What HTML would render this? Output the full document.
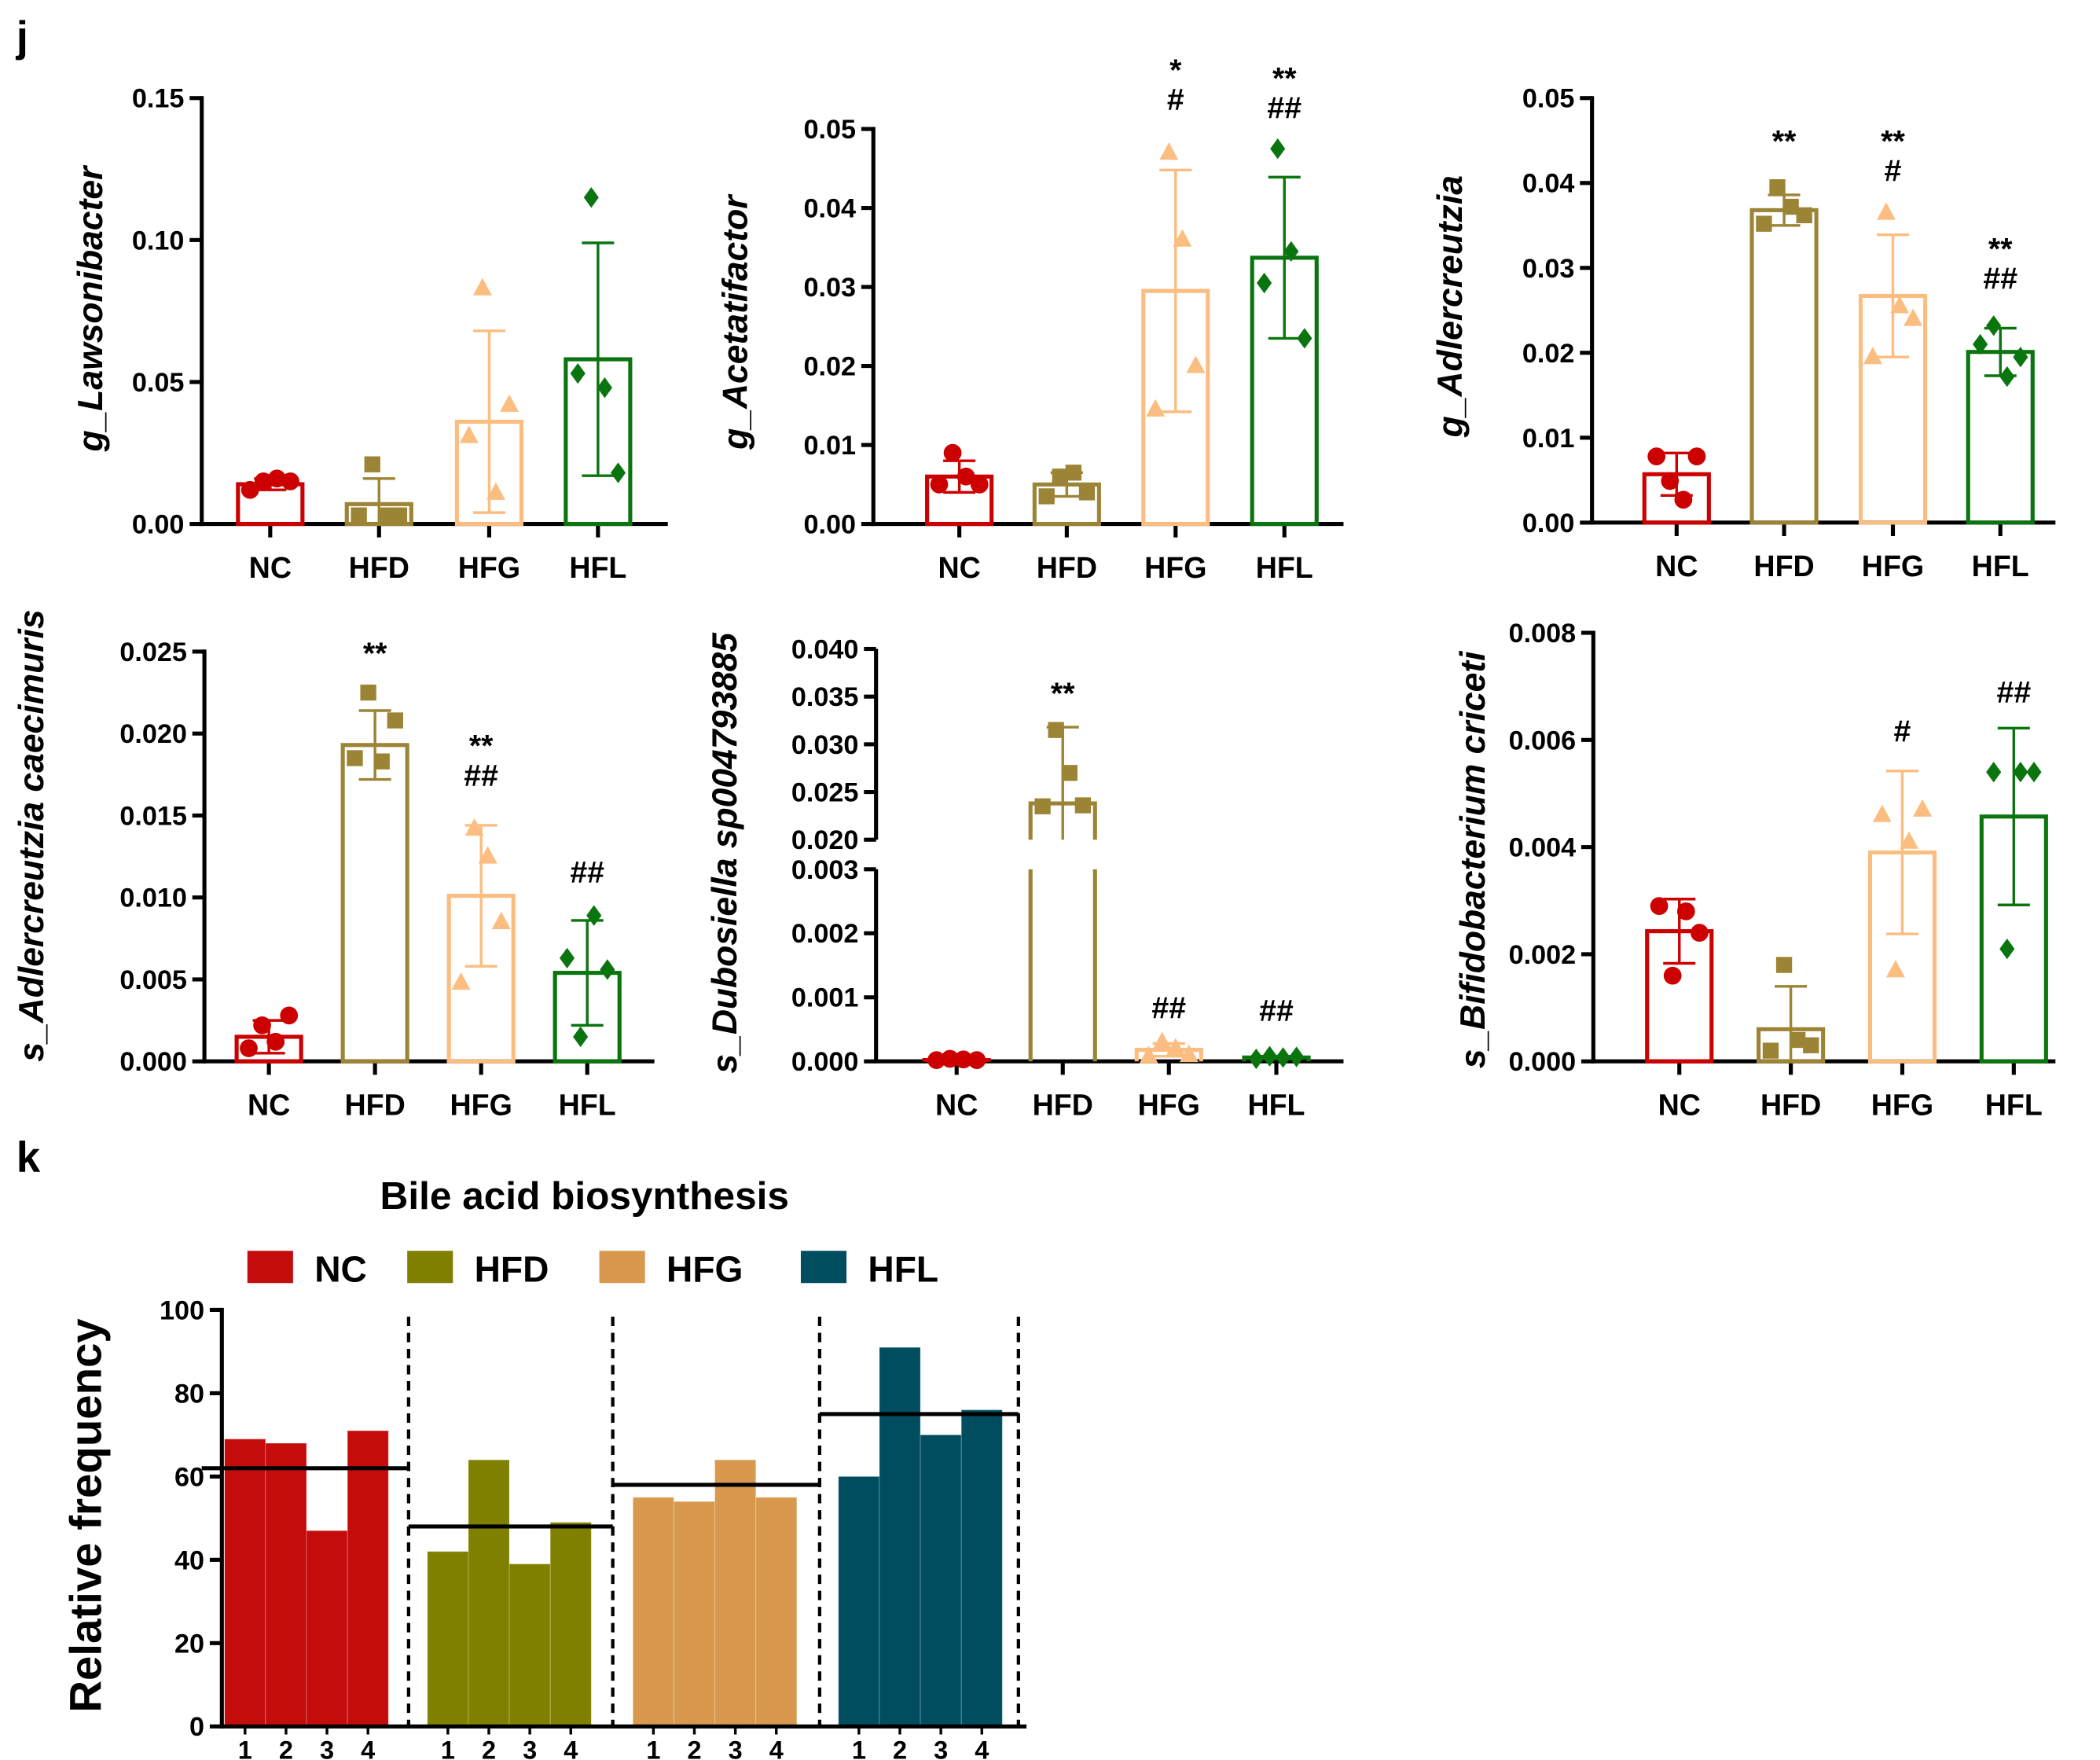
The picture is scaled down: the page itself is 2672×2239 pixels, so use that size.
<!DOCTYPE html>
<html><head><meta charset="utf-8">
<style>html,body{margin:0;padding:0;background:#fff}svg{display:block}text{font-family:"Liberation Sans",Arial,sans-serif;font-weight:bold}</style>
</head><body>
<svg id="fig" width="2672" height="2239" viewBox="0 0 1563 1310" xmlns="http://www.w3.org/2000/svg">
<text x="12" y="38" font-size="32">j</text>
<text x="12" y="872" font-size="32">k</text>
</svg>
<script>
const NS="http://www.w3.org/2000/svg";
const svg=document.getElementById('fig');
function mk(tag,attrs,parent,text){const e=document.createElementNS(NS,tag);for(const k in attrs)e.setAttribute(k,attrs[k]);if(text!==undefined)e.textContent=text;(parent||svg).appendChild(e);return e;}
const groups=["NC","HFD","HFG","HFL"];
const colors=["#cc0000","#9c8436","#fbbd80","#0a750f"];
const markers=["circle","square","triangle","diamond"];

// ---- panel data ----
const p1Means=[0.014,0.007,0.036,0.058];
const p1Sd=[0.002,0.009,0.032,0.041];
const p1Pts=[[0.012,0.015,0.016,0.015],[0.003,0.021,0.003,0.003],[0.031,0.083,0.011,0.042],[0.053,0.115,0.048,0.018]];
const p1Ticks=[0,0.05,0.10,0.15];
const p1Labels=["0.00","0.05","0.10","0.15"];

const p2Means=[0.006,0.005,0.0295,0.0337];
const p2Sd=[0.002,0.0015,0.0153,0.0102];
const p2Pts=[[0.005,0.009,0.006,0.005],[0.0035,0.006,0.0065,0.004],[0.0145,0.047,0.036,0.020],[0.0305,0.0475,0.0345,0.0235]];
const p2Ticks=[0,0.01,0.02,0.03,0.04,0.05];
const p2Labels=["0.00","0.01","0.02","0.03","0.04","0.05"];
const p2Ann=[[],[],["*","#"],["**","##"]];

const p3Means=[0.0057,0.0368,0.0267,0.0201];
const p3Sd=[0.0025,0.0018,0.0072,0.0028];
const p3Pts=[[0.0078,0.0049,0.0027,0.0078],[0.0352,0.0395,0.0372,0.0362],[0.0195,0.0365,0.0255,0.024],[0.021,0.0232,0.0172,0.0195]];
const p3Ticks=[0,0.01,0.02,0.03,0.04,0.05];
const p3Labels=["0.00","0.01","0.02","0.03","0.04","0.05"];
const p3Ann=[[],["**"],["**","#"],["**","##"]];

const p4Means=[0.0015,0.0193,0.0101,0.0054];
const p4Sd=[0.001,0.0021,0.0043,0.0032];
const p4Pts=[[0.0008,0.0022,0.0012,0.0028],[0.0185,0.0225,0.0183,0.0208],[0.0048,0.0142,0.0125,0.0085],[0.0063,0.0015,0.0089,0.0056]];
const p4Ticks=[0,0.005,0.010,0.015,0.020,0.025];
const p4Labels=["0.000","0.005","0.010","0.015","0.020","0.025"];
const p4Ann=[[],["**"],["**","##"],["##"]];

const p5Means=[0.00002,0.0238,0.00018,0.00006];
const p5Sd=[0,0.008,0.0001,0.00002];
const p5Pts=[[0.00002,0.00004,0.00003,0.00002],[0.0235,0.0315,0.027,0.0236],[0.00008,0.0003,0.0002,0.0001],[0.00004,0.00008,0.00006,0.00007]];
const p5LowTicks=[0,0.001,0.002,0.003];
const p5LowLabels=["0.000","0.001","0.002","0.003"];
const p5HighTicks=[0.020,0.025,0.030,0.035,0.040];
const p5HighLabels=["0.020","0.025","0.030","0.035","0.040"];
const p5Ann=[[],["**"],["##"],["##"]];

const p6Means=[0.00243,0.0006,0.0039,0.00457];
const p6Sd=[0.0006,0.0008,0.00152,0.00165];
const p6Pts=[[0.0029,0.0016,0.0028,0.0024],[0.0002,0.0018,0.0004,0.0003],[0.0046,0.0017,0.0041,0.0047],[0.0054,0.0021,0.0054,0.0054]];
const p6Ticks=[0,0.002,0.004,0.006,0.008];
const p6Labels=["0.000","0.002","0.004","0.006","0.008"];
const p6Ann=[[],[],["#"],["##"]];

// panel k
const kGroups=["NC","HFD","HFG","HFL"];
const kColors=["#c40c0c","#808000","#d8994f","#014d60"];
const kValues=[[69,68,47,71],[42,64,39,49],[55,54,64,55],[60,91,70,76]];
const kMeans=[62,48,58,75];
const kTicks=[0,20,40,60,80,100];

function marker(g,type,cx,cy,col,s,name){
  let e;
  if(type==="circle")e=mk('circle',{cx,cy,r:s*0.95,fill:col},g);
  else if(type==="square")e=mk('rect',{x:cx-s*0.85,y:cy-s*0.85,width:s*1.7,height:s*1.7,fill:col},g);
  else if(type==="triangle")e=mk('polygon',{points:`${cx},${cy-s*1.1} ${cx-s},${cy+s*0.75} ${cx+s},${cy+s*0.75}`,fill:col},g);
  else e=mk('polygon',{points:`${cx},${cy-s*1.1} ${cx+s*0.8},${cy} ${cx},${cy+s*1.1} ${cx-s*0.8},${cy}`,fill:col},g);
  
  
}

function panel(o){
  const g=mk('g',{});
  
  
  const y=o.y;
  if(!o.noAxis){
    const ax=mk('line',{x1:o.ax,y1:o.top-1.5,x2:o.ax,y2:o.bottom+1.5,stroke:'#000','stroke-width':3},g);
    
  }
  const xa=mk('line',{x1:o.ax-1.5,y1:o.bottom,x2:o.axEnd,y2:o.bottom,stroke:'#000','stroke-width':3},g);
  
  o.ticks.forEach((t,i)=>{
    const ty=y(t);
    mk('line',{x1:o.ax-9,y1:ty,x2:o.ax,y2:ty,stroke:'#000','stroke-width':3},g);
    const tl=mk('text',{x:o.ax-13,y:ty+7,'font-size':20,'text-anchor':'end'},g,o.labels[i]);
    
  });
  const yt=mk('text',{x:0,y:0,'font-size':26,'font-style':'italic','text-anchor':'middle',transform:`translate(${o.titleX},${o.titleY}) rotate(-90)`},g,o.title);
  
  groups.forEach((gr,i)=>{
    const cx=o.centers[i],col=colors[i];
    mk('line',{x1:cx,y1:o.bottom,x2:cx,y2:o.bottom+10,stroke:'#000','stroke-width':3},g);
    const xl=mk('text',{x:cx,y:o.bottom+40,'font-size':22,'text-anchor':'middle'},g,gr);
    
    const m=o.means[i],sd=o.sd[i],bw=48;
    const top=y(m);
    if(o.drawBar)o.drawBar(g,cx,bw,m,col,gr);
    else{
      const b=mk('rect',{x:cx-bw/2,y:top,width:bw,height:o.bottom-top,fill:'none',stroke:col,'stroke-width':3},g);
      
    }
    if(sd>0){
      const hi=y(m+sd),lo=Math.min(o.bottom,o.yLow?o.yLow(m-sd,m):y(m-sd));
      const eb=mk('path',{d:`M${cx},${lo}V${hi}M${cx-12},${hi}H${cx+12}`+(o.noLowCap&&i===1?'':`M${cx-12},${lo}H${cx+12}`),stroke:col,'stroke-width':2,fill:'none'},g);
      
    }
    const offs=[-15,-5,5,15];
    o.pts[i].forEach((v,j)=>{marker(g,markers[i],cx+offs[j],y(v),col,7,'point-'+gr.toLowerCase());});
    if(o.ann){
      const a=o.ann[i];const hi=y(m+sd);
      a.forEach((s,k)=>{
        const at=mk('text',{x:cx,y:(o.annY?o.annY[i]:hi-28)-(a.length-1-k)*22,'font-size':23,'text-anchor':'middle'},g,s);
        
      });
    }
  });
}
function lin(v0,p0,v1,p1){return v=>p0+(v-v0)*(p1-p0)/(v1-v0);}

panel({name:'chart-g-lawsonibacter',ax:150,axEnd:497,top:73,bottom:390,y:lin(0,390,0.15,73),ticks:p1Ticks,labels:p1Labels,centers:[201,282,364,445],means:p1Means,sd:p1Sd,pts:p1Pts,title:'g_Lawsonibacter',titleX:76,titleY:230});
panel({name:'chart-g-acetatifactor',ax:650,axEnd:1000,top:96,bottom:390,y:lin(0,390,0.05,96),ticks:p2Ticks,labels:p2Labels,centers:[714,794,875,956],means:p2Means,sd:p2Sd,pts:p2Pts,ann:p2Ann,annY:[0,0,82,88],title:'g_Acetatifactor',titleX:556,titleY:240});
panel({name:'chart-g-adlercreutzia',ax:1185,axEnd:1530,top:73,bottom:389,y:lin(0,389,0.05,73),ticks:p3Ticks,labels:p3Labels,centers:[1248,1328,1409,1489],means:p3Means,sd:p3Sd,pts:p3Pts,ann:p3Ann,annY:[0,113,135,215],title:'g_Adlercreutzia',titleX:1088,titleY:228});
panel({name:'chart-s-adlercreutzia-caecimuris',ax:152,axEnd:487,top:485,bottom:790,y:lin(0,790,0.025,485),ticks:p4Ticks,labels:p4Labels,centers:[200,279,358,437],means:p4Means,sd:p4Sd,pts:p4Pts,ann:p4Ann,annY:[0,494,585,657],title:'s_Adlercreutzia caecimuris',titleX:32,titleY:622});
panel({name:'chart-s-bifidobacterium-criceti',ax:1186,axEnd:1530,top:471,bottom:790,y:lin(0,790,0.008,471),ticks:p6Ticks,labels:p6Labels,centers:[1250,1333,1416,1499],means:p6Means,sd:p6Sd,pts:p6Pts,ann:p6Ann,annY:[0,0,552,523],title:'s_Bifidobacterium criceti',titleX:1105,titleY:640});

// Dubosiella broken axis
(function(){
  const yLowF=lin(0,790,0.003,647), yHighF=lin(0.020,625,0.040,483);
  const y=v=>v<=0.0031?yLowF(v):yHighF(v);
  const allT=p5LowTicks.concat(p5HighTicks), allL=p5LowLabels.concat(p5HighLabels);
  panel({name:'chart-s-dubosiella',ax:652,axEnd:1000,top:790,bottom:790,noAxis:true,y:y,ticks:allT,labels:allL,centers:[712,791,870,950],means:p5Means,sd:p5Sd,pts:p5Pts,ann:p5Ann,annY:[0,524,758,760],noLowCap:true,
    yLow:(v,m)=>(m>0.003&&v<0.020)?625:y(v),
    title:'s_Dubosiella sp004793885',titleX:548,titleY:635,
    drawBar:(g,cx,bw,m,col,gr)=>{
      let d;
      if(m>0.003){const t=yHighF(m);d=`M${cx-bw/2},790V647M${cx+bw/2},790V647M${cx-bw/2},625V${t}H${cx+bw/2}V625`;}
      else{const t=yLowF(m);d=`M${cx-bw/2},790V${t}H${cx+bw/2}V790`;}
      const b=mk('path',{d,stroke:col,'stroke-width':3,fill:'none'},g);
      
    }});
  const a1=mk('line',{x1:652,y1:483,x2:652,y2:625,stroke:'#000','stroke-width':3});
  
  const a2=mk('line',{x1:652,y1:647,x2:652,y2:791,stroke:'#000','stroke-width':3});
  
})();

// Panel k
(function(){
  const g=mk('g',{});
  
  
  const x0=165,bottom=1285,top=975;
  const y=lin(0,bottom,100,top);
  const t=mk('text',{x:435,y:900,'font-size':29,'text-anchor':'middle'},g,'Bile acid biosynthesis');
  
  const legX=[184,303,446,596];
  kGroups.forEach((gr,i)=>{
    const r=mk('rect',{x:legX[i],y:931,width:34,height:24,fill:kColors[i]},g);
    
    const lt=mk('text',{x:legX[i]+50,y:954,'font-size':27},g,gr);
    
  });
  const starts=[167,318,471,624],bw=30.5,dashX=[304,456,610,758];
  kGroups.forEach((gr,i)=>{
    kValues[i].forEach((v,j)=>{
      const bx=starts[i]+j*bw, by=y(v);
      const b=mk('rect',{x:bx,y:by,width:bw,height:bottom-by,fill:kColors[i],stroke:'rgba(255,255,255,0.25)','stroke-width':0.6},g);
      
      const l=mk('text',{x:bx+bw/2,y:bottom+24,'font-size':19,'text-anchor':'middle'},g,String(j+1));
      
      mk('line',{x1:bx+bw/2,y1:bottom,x2:bx+bw/2,y2:bottom+6,stroke:'#000','stroke-width':2},g);
    });
    const ml=mk('line',{x1:i===0?150:dashX[i-1],y1:y(kMeans[i]),x2:dashX[i],y2:y(kMeans[i]),stroke:'#000','stroke-width':3},g);
    
    const dl=mk('line',{x1:dashX[i],y1:980,x2:dashX[i],y2:bottom,stroke:'#000','stroke-width':2.5,'stroke-dasharray':'7,5'},g);
    
  });
  const ya=mk('line',{x1:x0,y1:top-1.5,x2:x0,y2:bottom+1.5,stroke:'#000','stroke-width':3},g);
  
  const xa=mk('line',{x1:x0-1.5,y1:bottom,x2:764,y2:bottom,stroke:'#000','stroke-width':3},g);
  
  kTicks.forEach(v=>{
    const ty=y(v);
    mk('line',{x1:x0-9,y1:ty,x2:x0,y2:ty,stroke:'#000','stroke-width':3},g);
    const tl=mk('text',{x:x0-13,y:ty+7,'font-size':20,'text-anchor':'end'},g,String(v));
    
  });
  const yt=mk('text',{x:0,y:0,'font-size':33,'text-anchor':'middle',transform:'translate(75,1128) rotate(-90)'},g,'Relative frequency');
  
})();
</script>
</body></html>
